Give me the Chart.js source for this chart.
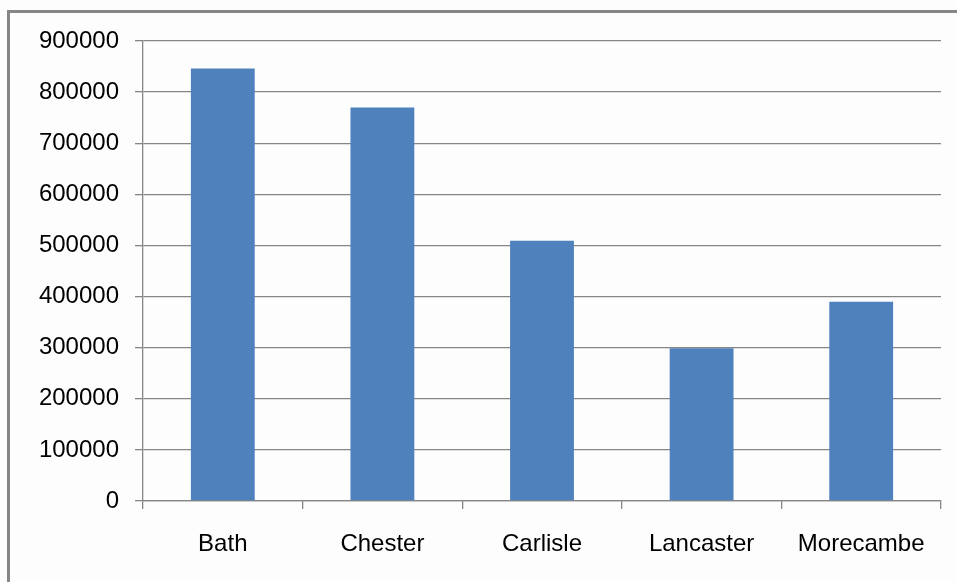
<!DOCTYPE html>
<html>
<head>
<meta charset="utf-8">
<script src="https://cdn.jsdelivr.net/npm/chart.js@4"></script>
<style>
  body { margin: 0; background: #fdfdfd; }
  #frame {
    position: absolute; left: 7px; top: 10px; width: 1000px; height: 620px;
    border-left: 3px solid #868686; border-top: 3px solid #868686;
  }
  #wrap { position: absolute; left: 0; top: 0; width: 957px; height: 582px; }
</style>
</head>
<body>
<div id="frame"></div>
<div id="wrap"><canvas id="barne"></canvas></div>
<script>
const towns = ['Bath', 'Chester', 'Carlisle', 'Lancaster', 'Morecambe']
const visitors = [846000, 770000, 509000, 299000, 390000]
const yTicks = [0, 100000, 200000, 300000, 400000, 500000, 600000, 700000, 800000, 900000]

const lineGrey = '#868686'
const font = { family: 'Liberation Sans', size: 24 }

const data = {
    labels: towns,
    datasets: [
        {
            data: visitors,
            backgroundColor: '#4f81bd',
            barPercentage: 0.4,
            categoryPercentage: 1.0,
        },
    ],
}

const config = {
    type: 'bar',
    data: data,
    options: {
        responsive: true,
        maintainAspectRatio: false,
        animation: false,
        layout: { padding: { left: 0, top: 41, right: 16, bottom: 0 } },
        plugins: { legend: { display: false }, tooltip: { enabled: false } },
        scales: {
            x: {
                grid: { drawOnChartArea: false, color: lineGrey, tickLength: 8, lineWidth: 1.3 },
                border: { color: lineGrey, width: 1.3 },
                ticks: { color: '#000', font: font, padding: 21, maxRotation: 0 },
                afterFit: (s) => { s.height = 81 },
            },
            y: {
                min: 0,
                max: 900000,
                grid: { color: lineGrey, tickLength: 8, lineWidth: 1.3 },
                border: { color: lineGrey, width: 1.3 },
                afterBuildTicks: (s) => { s.ticks = yTicks.map(v => ({ value: v })) },
                ticks: { color: '#000', font: font, padding: 16, callback: (v) => String(v) },
                afterFit: (s) => { s.width = 143 },
            },
        },
    },
}

const barne = document.getElementById('barne')
const chart = new Chart(barne, config)
</script>
</body>
</html>
